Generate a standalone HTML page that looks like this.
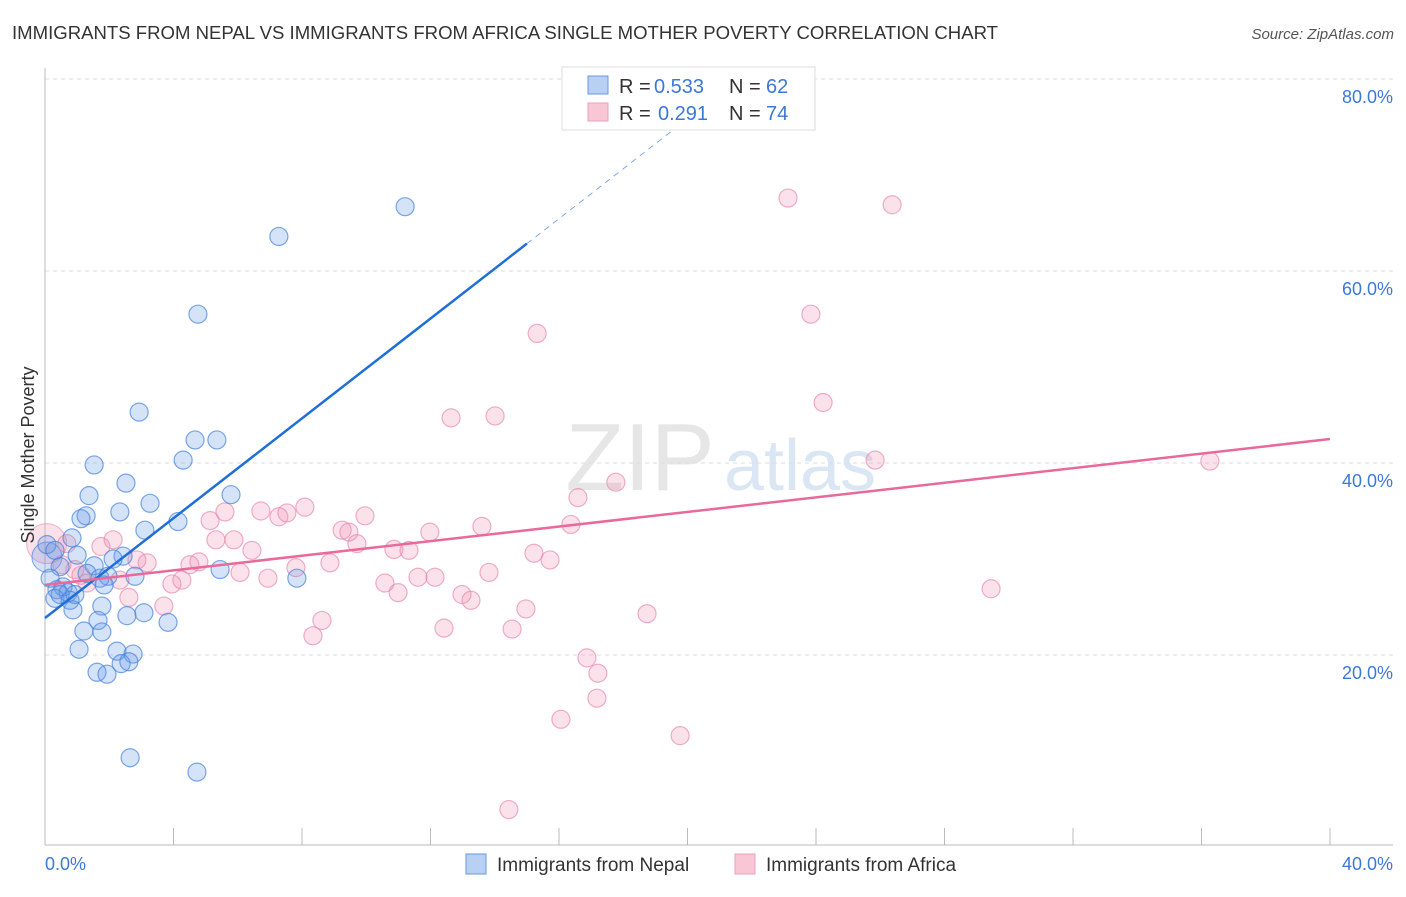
<!DOCTYPE html>
<html><head><meta charset="utf-8"><style>
body{margin:0;background:#fff;font-family:"Liberation Sans",sans-serif;}
svg text{font-family:"Liberation Sans",sans-serif;}
</style></head><body>
<svg id="chart" width="1406" height="892">
<text x="12" y="39" font-size="18" fill="#333" textLength="986" lengthAdjust="spacingAndGlyphs">IMMIGRANTS FROM NEPAL VS IMMIGRANTS FROM AFRICA SINGLE MOTHER POVERTY CORRELATION CHART</text>
<text x="1394" y="39" font-size="15" fill="#555" font-style="italic" text-anchor="end">Source: ZipAtlas.com</text>
<text x="640" y="490" font-size="96" fill="#e6e6e6" font-family="Liberation Serif" text-anchor="middle">ZIP</text>
<text x="800" y="490" font-size="72" fill="#dbe6f5" text-anchor="middle">atlas</text>
<g id="grid"></g><g id="marks"></g>
<text transform="translate(34,455) rotate(-90)" font-size="18" fill="#333" text-anchor="middle">Single Mother Poverty</text>
<text x="45" y="870" font-size="18" fill="#3c78d8">0.0%</text>
<text x="1393" y="870" font-size="18" fill="#3c78d8" text-anchor="end">40.0%</text>
<g>
<rect x="562" y="67" width="253" height="63" fill="#fff" stroke="#ddd"/>
<rect x="588" y="76" width="20" height="18" fill="#b8d0f2" stroke="#6a9ae0"/>
<rect x="588" y="103" width="20" height="18" fill="#f9c6d6" stroke="#e8a0b8"/>
<text y="93" font-size="20" fill="#333"><tspan x="619">R =</tspan><tspan x="654" fill="#3c78d8">0.533</tspan><tspan x="729">N =</tspan><tspan x="766" fill="#3c78d8">62</tspan></text>
<text y="120" font-size="20" fill="#333"><tspan x="619">R =</tspan><tspan x="658" fill="#3c78d8">0.291</tspan><tspan x="729">N =</tspan><tspan x="766" fill="#3c78d8">74</tspan></text>
</g>
<g>
<rect x="466" y="854" width="20" height="20" fill="#b8d0f2" stroke="#6a9ae0"/>
<text x="497" y="871" font-size="19" fill="#333">Immigrants from Nepal</text>
<rect x="735" y="854" width="20" height="20" fill="#f9c6d6" stroke="#e8a0b8"/>
<text x="766" y="871" font-size="19" fill="#333">Immigrants from Africa</text>
</g>
</svg>
<script>
const yTicks=[20,40,60,80];
const yTickLabels=["20.0%","40.0%","60.0%","80.0%"];
const xTicks=[0,4,8,12,16,20,24,28,32,36,40];
const nepalX=[11.21,7.28,4.76,2.93,4.67,5.35,4.30,1.53,2.52,1.37,5.79,3.27,1.28,2.33,1.12,4.14,3.11,0.84,1.00,2.43,2.12,0.06,0.31,0.47,1.53,1.31,1.96,2.80,1.71,5.45,7.84,1.84,0.56,0.37,0.72,0.31,0.78,0.87,1.77,3.08,2.55,1.65,3.83,1.77,1.21,1.06,2.24,2.74,2.37,1.62,1.93,2.61,2.65,4.73,0.16,0.47,0.93];
const nepalY=[66.7,63.6,55.5,45.3,42.4,42.4,40.3,39.8,37.9,36.6,36.7,35.8,34.5,34.9,34.2,33.9,33.0,32.2,30.4,30.3,30.0,31.5,30.9,29.2,29.3,28.5,28.2,28.2,28.0,28.9,28.0,27.3,27.1,26.8,26.5,25.9,25.7,24.7,25.1,24.4,24.1,23.6,23.4,22.4,22.5,20.6,20.4,20.1,19.1,18.2,18.0,19.3,9.3,7.8,28.0,26.3,26.3];
const africaX=[23.13,26.37,23.84,15.32,24.22,12.64,14.01,25.84,36.26,17.77,16.59,8.09,6.72,5.14,5.60,7.28,7.53,9.96,9.25,9.46,13.60,16.37,11.98,10.86,9.71,11.33,5.32,5.88,6.44,2.12,1.74,0.68,15.22,15.72,2.86,3.18,4.79,4.51,8.87,7.81,13.82,6.07,6.94,11.61,12.14,10.58,4.26,3.95,2.33,1.31,1.12,10.99,29.45,12.98,13.26,2.61,3.70,14.97,18.74,8.62,8.34,12.42,14.54,16.87,17.21,17.18,16.06,19.77,14.44,0.53,0.93];
const africaY=[67.6,66.9,55.5,53.5,46.3,44.7,44.9,40.3,40.2,38.0,36.4,35.4,35.0,34.0,34.9,34.4,34.8,34.5,33.0,32.8,33.4,33.6,32.8,31.0,31.6,30.9,32.0,32.0,30.9,32.0,31.3,31.6,30.6,29.9,29.9,29.6,29.7,29.4,29.6,29.1,28.6,28.6,28.0,28.1,28.1,27.5,27.8,27.4,27.8,27.5,28.3,26.5,26.9,26.3,25.7,26.0,25.1,24.8,24.3,23.6,22.0,22.8,22.7,19.7,18.1,15.5,13.3,11.6,3.9,29.4,28.9];
const nepalTrend=[23.85,2.6];
const africaTrend=[27.3,0.38];
const NS="http://www.w3.org/2000/svg";
const xs=v=>45+v*32.125, ys=v=>847-v*9.6;
function mk(tag,attrs,parent){const e=document.createElementNS(NS,tag);for(const k in attrs)e.setAttribute(k,attrs[k]);parent.appendChild(e);return e;}
const grid=document.getElementById('grid'), marks=document.getElementById('marks');
yTicks.forEach((t,i)=>{
 const l=mk('line',{x1:45,x2:1393,y1:ys(t),y2:ys(t),stroke:'#ddd','stroke-dasharray':'4,4'},grid);
 
 
 const tx=mk('text',{x:1393,y:ys(t)+24,'font-size':18,fill:'#3c78d8','text-anchor':'end'},grid);
 tx.textContent=yTickLabels[i];
 
 
});
const ax=mk('line',{x1:45,x2:1393,y1:845,y2:845,stroke:'#bbb'},grid);


const ay=mk('line',{x1:45,x2:45,y1:68,y2:845,stroke:'#bbb'},grid);


xTicks.forEach(t=>{
 const l=mk('line',{x1:xs(t),x2:xs(t),y1:828,y2:845,stroke:'#bbb'},grid);
 
 
});
const bp=mk('circle',{cx:xs(0.05),cy:ys(31.6),r:20,fill:'rgba(240,140,170,0.25)',stroke:'rgba(232,150,180,0.7)'},marks);


const bb=mk('circle',{cx:xs(0.06),cy:ys(30.2),r:15,fill:'rgba(100,150,230,0.28)',stroke:'rgba(70,130,220,0.7)'},marks);


africaX.forEach((x,i)=>{
 const c=mk('circle',{cx:xs(x),cy:ys(africaY[i]),r:9,fill:'rgba(240,140,170,0.25)',stroke:'rgba(232,140,175,0.7)','stroke-width':1.2},marks);
 
 
});
nepalX.forEach((x,i)=>{
 const c=mk('circle',{cx:xs(x),cy:ys(nepalY[i]),r:9,fill:'rgba(100,150,230,0.27)',stroke:'rgba(70,130,220,0.7)','stroke-width':1.2},marks);
 
 
});
const bt=mk('line',{x1:xs(0),y1:ys(nepalTrend[0]),x2:xs(15),y2:ys(nepalTrend[0]+15*nepalTrend[1]),stroke:'#1f6fd8','stroke-width':2.5},marks);


const bd=mk('line',{x1:xs(15),y1:ys(nepalTrend[0]+15*nepalTrend[1]),x2:xs(21),y2:ys(nepalTrend[0]+21*nepalTrend[1]),stroke:'#7aa6e6','stroke-width':1,'stroke-dasharray':'6,5'},marks);


const pt=mk('line',{x1:xs(0),y1:ys(africaTrend[0]),x2:xs(40),y2:ys(africaTrend[0]+40*africaTrend[1]),stroke:'#e8699a','stroke-width':2.5},marks);


</script>
</body></html>
